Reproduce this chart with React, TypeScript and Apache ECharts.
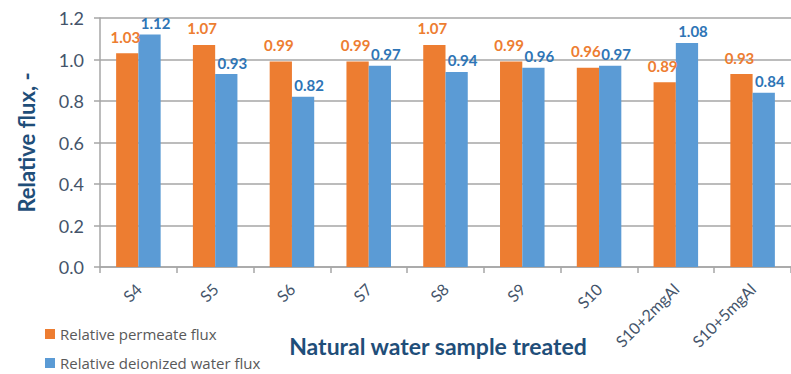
import React, { useEffect, useRef } from "react";
import * as echarts from "echarts";

const categories = ["S4", "S5", "S6", "S7", "S8", "S9", "S10", "S10+2mgAl", "S10+5mgAl"];
const permeateFlux = [1.03, 1.07, 0.99, 0.99, 1.07, 0.99, 0.96, 0.89, 0.93];
const deionizedFlux = [1.12, 0.93, 0.82, 0.97, 0.94, 0.96, 0.97, 1.08, 0.84];
const seriesNames = ["Relative permeate flux", "Relative deionized water flux"];
const yTitle = "Relative flux, -";
const xTitle = "Natural water sample treated";

const FONT = "Lato, 'Open Sans', sans-serif";

export default function App() {
  const ref = useRef<HTMLDivElement>(null);
  useEffect(() => {
    if (!ref.current) return;
    const chart = echarts.init(ref.current, undefined, { renderer: "svg" });
    const labelStyle = (color: string, distance: number, dx: number) => ({
      show: true,
      position: "top" as const,
      distance,
      offset: [dx, 0],
      color,
      fontSize: 15,
      fontWeight: "bold" as const,
      fontFamily: FONT,
      formatter: (p: any) => p.value.toFixed(2),
    });
    const legendBase = {
      orient: "vertical" as const,
      left: 45,
      padding: 0,
      itemWidth: 10,
      itemHeight: 10,
      itemGap: 0,
      icon: "rect",
      textStyle: {
        color: "#595959",
        fontSize: 15,
        lineHeight: 16,
        padding: [0, 0, 0, 0],
        fontFamily: "'Open Sans', sans-serif",
      },
    };
    chart.setOption({
      animation: false,
      backgroundColor: "#ffffff",
      textStyle: { fontFamily: FONT },
      grid: { left: 100, top: 18, bottom: 107, right: -7, containLabel: false },
      legend: [
        { ...legendBase, top: 326, data: [seriesNames[0]] },
        { ...legendBase, top: 355, data: [seriesNames[1]] },
      ],
      xAxis: {
        type: "category",
        data: categories,
        boundaryGap: true,
        axisLine: { show: true, lineStyle: { color: "#a6a6a6", width: 1.5 } },
        axisTick: { show: true, length: 6, alignWithLabel: false, lineStyle: { color: "#a6a6a6", width: 1.5 } },
        axisLabel: {
          rotate: 45,
          margin: 19,
          color: "#44546a",
          fontSize: 16,
          fontFamily: FONT,
          interval: 0,
        },
      },
      yAxis: {
        type: "value",
        min: 0,
        max: 1.2,
        interval: 0.2,
        name: yTitle,
        nameLocation: "middle",
        nameGap: 63,
        nameTextStyle: { color: "#1f4e79", fontSize: 22, fontWeight: "bold", fontFamily: FONT },
        axisLine: { show: true, lineStyle: { color: "#a6a6a6", width: 1.5 } },
        axisTick: { show: true, length: 6, lineStyle: { color: "#a6a6a6", width: 1.5 } },
        splitLine: { show: true, lineStyle: { color: "#a6a6a6", width: 1.5 } },
        axisLabel: {
          margin: 16,
          color: "#44546a",
          fontSize: 18,
          fontFamily: FONT,
          formatter: (v: number) => v.toFixed(1),
        },
      },
      graphic: [
        {
          type: "text",
          x: 438,
          y: 346,
          style: {
            text: xTitle,
            fill: "#1f4e79",
            fontSize: 23,
            fontWeight: "bold",
            fontFamily: FONT,
            align: "center",
            verticalAlign: "middle",
          },
        },
      ],
      series: [
        {
          name: seriesNames[0],
          type: "bar",
          data: permeateFlux,
          barGap: "0%",
          barCategoryGap: "42%",
          itemStyle: { color: "#ed7d31" },
          label: labelStyle("#ed7d31", 9, -2),
        },
        {
          name: seriesNames[1],
          type: "bar",
          data: deionizedFlux,
          barGap: "0%",
          barCategoryGap: "42%",
          itemStyle: { color: "#5b9bd5" },
          label: labelStyle("#2e75b6", 4, 6),
        },
      ],
    });
    return () => chart.dispose();
  }, []);
  return (
    <div
      ref={ref}
      style={{ position: "absolute", left: 0, top: 0, width: 791, height: 374, background: "#fff" }}
    />
  );
}
